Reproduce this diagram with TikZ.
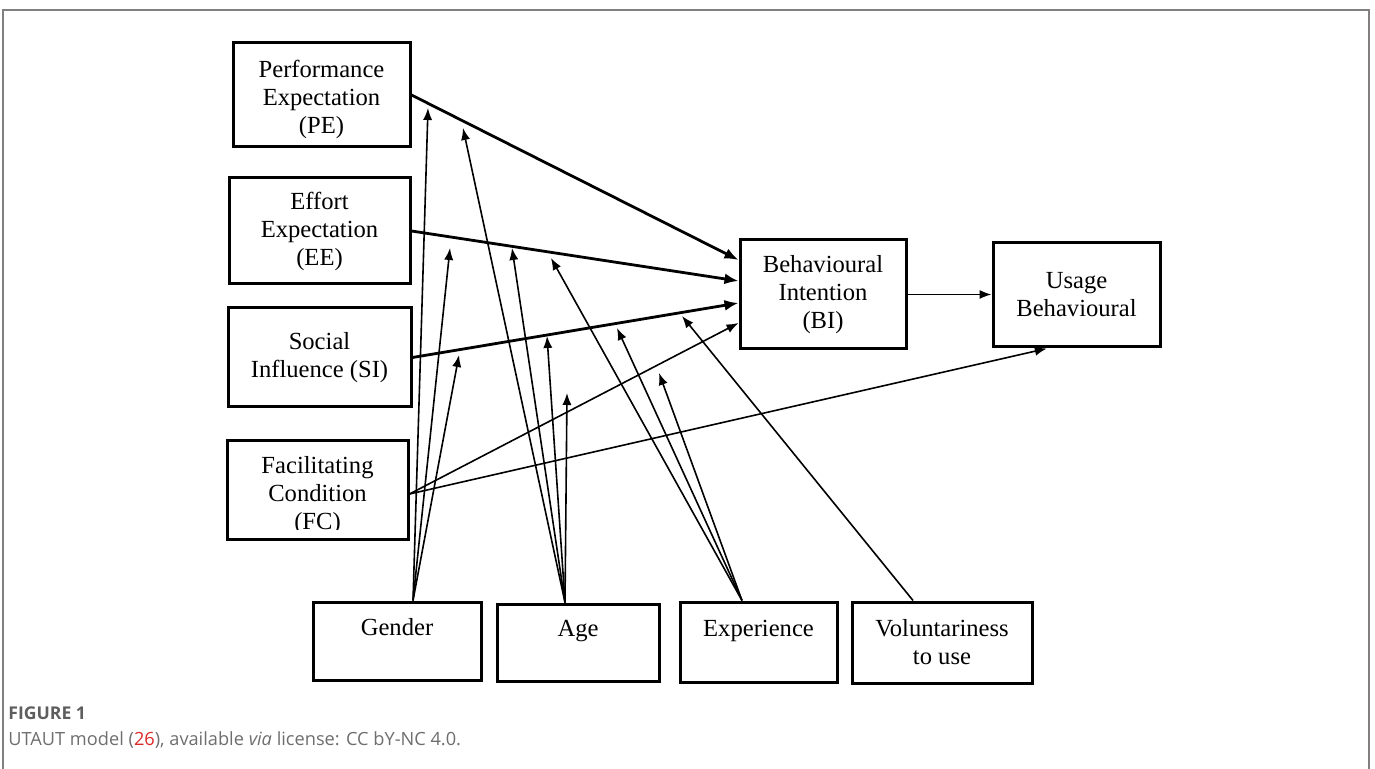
\documentclass[tikz,border=0pt]{standalone}
\usepackage{fontspec}
\setmainfont{Liberation Serif}
\newfontfamily\capfont{Open Sans}
\usetikzlibrary{arrows.meta,positioning,calc}
\definecolor{capgray}{RGB}{110,110,110}
\definecolor{capred}{RGB}{220,40,40}

\begin{document}
\begin{tikzpicture}
	[x=0.5pt,y=-0.5pt,
	box/.style={draw=black,line width=1.5pt,align=center,inner sep=0pt,
		font=\fontsize{12.3}{14}\selectfont},
	boxtext/.style={align=center,inner sep=0pt,font=\fontsize{12.3}{14}\selectfont},
	main/.style={line width=1.4pt,-{Latex[length=7pt,width=5.5pt]}},
	mod/.style={line width=0.8pt,-{Latex[length=6pt,width=4.6pt]}},
	frame/.style={draw=black!50,line width=1pt}]
\useasboundingbox (0,0) rectangle (1375,769);
%marco
\draw[frame] (3,769) -- (3,10) -- (1369,10) -- (1369,769);

%constructos
\node[box,minimum width=88.5pt,minimum height=52pt] (pe) at (321.5,95) {};
\node[boxtext] (petext) at (321.5,99) {Performance\\Expectation\\(PE)};
\node[box,minimum width=90.5pt,minimum height=53pt] (ee) at (319.5,231) {Effort\\Expectation\\(EE)};
\node[box,minimum width=91.5pt,minimum height=49.5pt] (si) at (319.5,357.5) {Social\\Influence (SI)};
\node[box,minimum width=90.5pt,minimum height=49pt] (fc) at (317.5,490) {};
\begin{scope}
\clip (227,441) rectangle (408,530);
\node[boxtext] (fctext) at (317.5,496) {Facilitating\\Condition\\(FC)};
\end{scope}
\node[box,minimum width=83pt,minimum height=54.5pt] (bi) at (823,294.5) {Behavioural\\Intention\\(BI)};
\node[box,minimum width=83.5pt,minimum height=52pt] (ub) at (1076.5,295) {Usage\\Behavioural};

%moderadores
\node[box,minimum width=84pt,minimum height=39pt] (gen) at (397,641) {Gender\\~};
\node[box,minimum width=81pt,minimum height=38.5pt] (age) at (578,642.5) {Age\\~};
\node[box,minimum width=78.5pt,minimum height=40pt] (exp) at (758.5,642) {Experience\\~};
\node[box,minimum width=90pt,minimum height=40.5pt] (vol) at (942,642.5) {Voluntariness\\to use};

%flechas principales
\draw[main] (pe.east) -- ($(bi.west)+(0,-34.5)$);
\draw[main] (ee.east) -- ($(bi.west)+(0,-13.5)$);
\draw[main] (si.east) -- ($(bi.west)+(0,8.5)$);
\coordinate (fcs) at ($(fc.east)+(0,4)$);
\draw[mod] (fcs) -- ($(bi.west)+(0,28.5)$);
\draw[mod] (fcs) -- (ub.241);
\draw[mod] (bi.east) -- (bi.east -| ub.west);

%puntas de los moderadores
\coordinate (g1) at (428,108);
\coordinate (g2) at (450,248);
\coordinate (g3) at (459,355);
\coordinate (a1) at (463,128);
\coordinate (a2) at (512,248);
\coordinate (a3) at (547,336);
\coordinate (a4) at (567,393);
\coordinate (e1) at (551,258);
\coordinate (e2) at (617,328);
\coordinate (e3) at (659,373);
\coordinate (v1) at (682,316);

%flechas de los moderadores
\coordinate (gs) at ($(gen.north)+(16,0)$);
\coordinate (as) at ($(age.north)+(-13,0)$);
\coordinate (es) at ($(exp.north)+(-16.5,0)$);
\coordinate (vs) at ($(vol.north)+(-29,0)$);
\foreach \t in {g1,g2,g3} \draw[mod] (gs) -- (\t);
\foreach \t in {a1,a2,a3,a4} \draw[mod] (as) -- (\t);
\foreach \t in {e1,e2,e3} \draw[mod] (es) -- (\t);
\draw[mod] (vs) -- (v1);

%pie de figura
\node[anchor=west,inner sep=0pt,text=capgray!85!black,font=\capfont\fontsize{8.8}{10}\selectfont\bfseries] (fig) at (8,713) {FIGURE 1};
\node[anchor=west,inner sep=0pt,text=capgray,font=\capfont\fontsize{9.1}{11}\selectfont] (cap) at (8,740)
	{UTAUT model (\textcolor{capred}{26}), available \textit{via} license: CC bY-NC 4.0.};
\end{tikzpicture}
\end{document}
